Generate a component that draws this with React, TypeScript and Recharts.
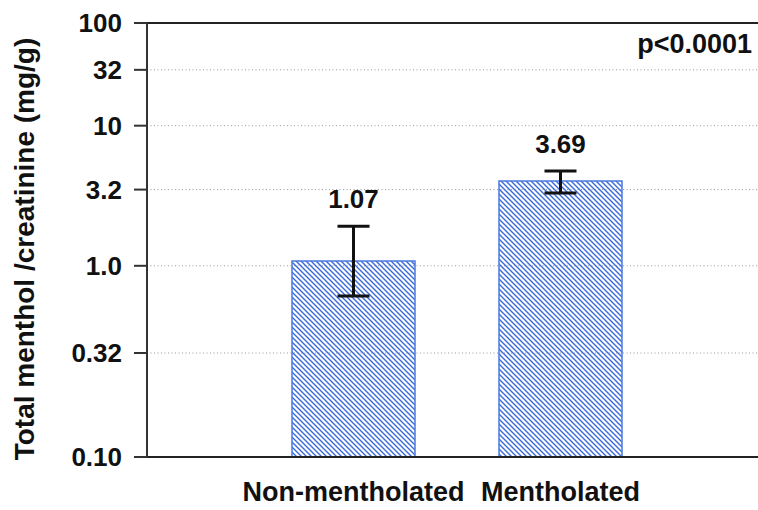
import React from 'react';
import {
  BarChart,
  Bar,
  XAxis,
  YAxis,
  CartesianGrid,
  ErrorBar,
  LabelList,
  ReferenceLine,
} from 'recharts';

if (typeof document !== 'undefined') {
  document.body.style.margin = '0';
}

// ---- data ----
const categories = ['Non-mentholated', 'Mentholated'];
const means = [1.07, 3.69];
const lowerCI = [0.66, 3.02];
const upperCI = [1.79, 4.38];
const tickValues = [0.1, 0.32, 1, 3.2, 10, 32, 100];
const tickLabels = ['0.10', '0.32', '1.0', '3.2', '10', '32', '100'];
const pValueText = 'p<0.0001';
const yLabel = 'Total menthol /creatinine (mg/g)';

// ---- axis transform (compressive scale as in the original figure) ----
const K = 0.135;
const MIN = 0.1;
const MAX = 100;
const tf = (v: number) => (1 - Math.pow(v / MIN, -K)) / (1 - Math.pow(MAX / MIN, -K));
const tTicks = tickValues.map(tf);

const data = categories.map((c, i) => ({
  name: c,
  value: means[i],
  t: tf(means[i]),
  hiT: tf(upperCI[i]),
  err: [tf(means[i]) - tf(lowerCI[i]), tf(upperCI[i]) - tf(means[i])],
}));

const FONT = '"Liberation Sans", Arial, sans-serif';

const BarValueLabel = (props: any) => {
  const x = Number(props.x);
  const y = Number(props.y);
  const width = Number(props.width);
  const height = Number(props.height);
  const d = data[props.index];
  if (!d) return null;
  const ppu = height / d.t;
  const hiY = y + height - d.hiT * ppu;
  return (
    <text
      x={x + width / 2}
      y={hiY - 18}
      textAnchor="middle"
      fontSize={26}
      fontWeight="bold"
      fontFamily={FONT}
      fill="#111"
    >
      {d.value.toFixed(2)}
    </text>
  );
};

const YLabel = (props: any) => {
  const vb = props.viewBox || {};
  const cy = Number(vb.y) + Number(vb.height) / 2 + 9;
  const cx = 34;
  return (
    <text
      x={cx}
      y={cy}
      transform={`rotate(-90 ${cx} ${cy})`}
      textAnchor="middle"
      fontSize={28}
      fontWeight="bold"
      fontFamily={FONT}
      fill="#111"
    >
      {yLabel}
    </text>
  );
};

const PLabel = (props: any) => {
  const vb = props.viewBox || {};
  return (
    <text
      x={Number(vb.x) + Number(vb.width) - 6}
      y={Number(vb.y) + 30}
      textAnchor="end"
      fontSize={27}
      fontWeight="bold"
      fontFamily={FONT}
      fill="#111"
    >
      {pValueText}
    </text>
  );
};

const fmt = (v: number) => {
  const i = tTicks.findIndex((t) => Math.abs(t - v) < 1e-9);
  return i >= 0 ? tickLabels[i] : '';
};

export default function App() {
  return (
    <div style={{ width: 758, height: 510, background: '#fff' }}>
      <BarChart
        width={758}
        height={510}
        data={data}
        margin={{ top: 23, right: 0, bottom: 0, left: 0 }}
      >
        <defs>
          <pattern id="hatch" patternUnits="userSpaceOnUse" width="5" height="5">
            <path
              d="M0,0 L5,5 M-1,4 L1,6 M4,-1 L6,1"
              stroke="#3a6ad8"
              strokeWidth="1.4"
            />
          </pattern>
        </defs>
        <CartesianGrid
          yAxisId="left"
          vertical={false}
          stroke="#999"
          strokeDasharray="1 2.5"
        />
        <XAxis
          dataKey="name"
          interval={0}
          padding={{ left: 103, right: 94 }}
          height={53}
          tickLine={false}
          tickSize={0}
          tickMargin={25}
          axisLine={{ stroke: '#222', strokeWidth: 2 }}
          tick={{ fontSize: 27, fontWeight: 'bold', fill: '#111', fontFamily: FONT }}
        />
        <YAxis
          yAxisId="left"
          type="number"
          width={147}
          domain={[0, 1]}
          ticks={tTicks}
          interval={0}
          tickFormatter={fmt}
          tickSize={13}
          tickMargin={12}
          axisLine={{ stroke: '#333', strokeWidth: 2 }}
          tickLine={{ stroke: '#333', strokeWidth: 2 }}
          tick={{ fontSize: 26, fontWeight: 'bold', fill: '#111', fontFamily: FONT }}
          label={<YLabel />}
        />
        <YAxis
          yAxisId="right"
          orientation="right"
          type="number"
          width={0}
          mirror
          domain={[0, 1]}
          ticks={tTicks}
          interval={0}
          tick={false}
          tickSize={4}
          axisLine={false}
          tickLine={{ stroke: '#333', strokeWidth: 2 }}
        />
        <Bar
          yAxisId="left"
          dataKey="t"
          barSize={123}
          fill="url(#hatch)"
          stroke="#4a7ae0"
          strokeWidth={1.5}
          isAnimationActive={false}
        >
          <ErrorBar
            dataKey="err"
            direction="y"
            width={16}
            stroke="#111"
            strokeWidth={3}
            isAnimationActive={false}
          />
          <LabelList dataKey="value" content={<BarValueLabel />} />
        </Bar>
        <ReferenceLine
          yAxisId="left"
          y={1}
          stroke="#222"
          strokeWidth={2}
          label={<PLabel />}
        />
      </BarChart>
    </div>
  );
}
